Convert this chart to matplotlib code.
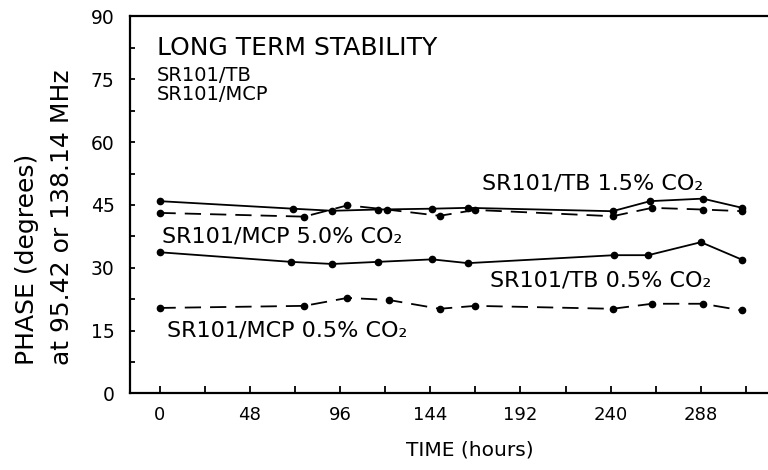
import matplotlib
matplotlib.use("Agg")
import matplotlib.pyplot as plt
from matplotlib.ticker import MultipleLocator

# hours / phase (degrees)
tb15_hours = [0, 71, 92, 116, 145, 164, 241, 261, 289, 310]
tb15_phase = [45.9, 44.1, 43.6, 43.9, 44.1, 44.3, 43.5, 45.9, 46.5, 44.3]

mcp50_hours = [0, 77, 100, 121, 149, 168, 241, 262, 289, 310]
mcp50_phase = [43.1, 42.2, 44.9, 43.9, 42.4, 43.8, 42.3, 44.3, 43.9, 43.5]

tb05_hours = [0, 70, 92, 116, 145, 164, 242, 260, 288, 310]
tb05_phase = [33.7, 31.4, 30.9, 31.4, 32.0, 31.1, 33.0, 33.0, 36.1, 31.9]

mcp05_hours = [0, 77, 100, 122, 149, 168, 241, 262, 289, 310]
mcp05_phase = [20.4, 20.9, 22.8, 22.3, 20.2, 20.9, 20.2, 21.4, 21.4, 19.8]

x_labels = [0, 48, 96, 144, 192, 240, 288]
y_labels = [0, 15, 30, 45, 60, 75, 90]

plt.rcParams['font.family'] = ['DejaVu Sans']

fig = plt.figure(figsize=(7.68, 4.70), dpi=100)
ax = fig.add_axes([130 / 768, 0.163, 638 / 768, 0.802])

line_kw = dict(color='black', lw=1.3, marker='o', ms=4.5)
ax.plot(tb15_hours, tb15_phase, **line_kw)
ax.plot(mcp50_hours, mcp50_phase, dashes=(9, 5), **line_kw)
ax.plot(tb05_hours, tb05_phase, **line_kw)
ax.plot(mcp05_hours, mcp05_phase, dashes=(9, 5), **line_kw)

ax.set_xlim(-15.7, 323.7)
ax.set_ylim(0, 90)
ax.set_xticks(x_labels)
ax.xaxis.set_minor_locator(MultipleLocator(24))
ax.set_yticks(y_labels)
ax.yaxis.set_minor_locator(MultipleLocator(7.5))
ax.tick_params(axis='x', which='both', direction='in', length=5, width=1.3,
               labelsize=13, pad=9)
ax.tick_params(axis='y', which='both', direction='in', length=3.5, width=1.3,
               labelsize=13.5, pad=11)
for side in ['top', 'bottom', 'left']:
    ax.spines[side].set_linewidth(1.6)
ax.spines['right'].set_visible(False)

ax.text(-1.3, 80.9, 'LONG TERM STABILITY', fontsize=18)
ax.text(-1.3, 74.6, 'SR101/TB', fontsize=14)
ax.text(-1.3, 70.0, 'SR101/MCP', fontsize=14)
ax.text(1.3, 36.0, 'SR101/MCP 5.0% CO₂', fontsize=16)
ax.text(171.5, 48.7, 'SR101/TB 1.5% CO₂', fontsize=16)
ax.text(175.8, 25.5, 'SR101/TB 0.5% CO₂', fontsize=16)
ax.text(4, 13.5, 'SR101/MCP 0.5% CO₂', fontsize=16)

fig.text(470 / 768, 20 / 470, 'TIME (hours)', ha='center', va='center', fontsize=14.5)
fig.text(27 / 768, 105 / 470, 'PHASE (degrees)', rotation=90,
         ha='center', va='bottom', fontsize=18)
fig.text(62 / 768, 105 / 470, 'at 95.42 or 138.14 MHz', rotation=90,
         ha='center', va='bottom', fontsize=18)

fig.savefig('out.png', dpi=100)
